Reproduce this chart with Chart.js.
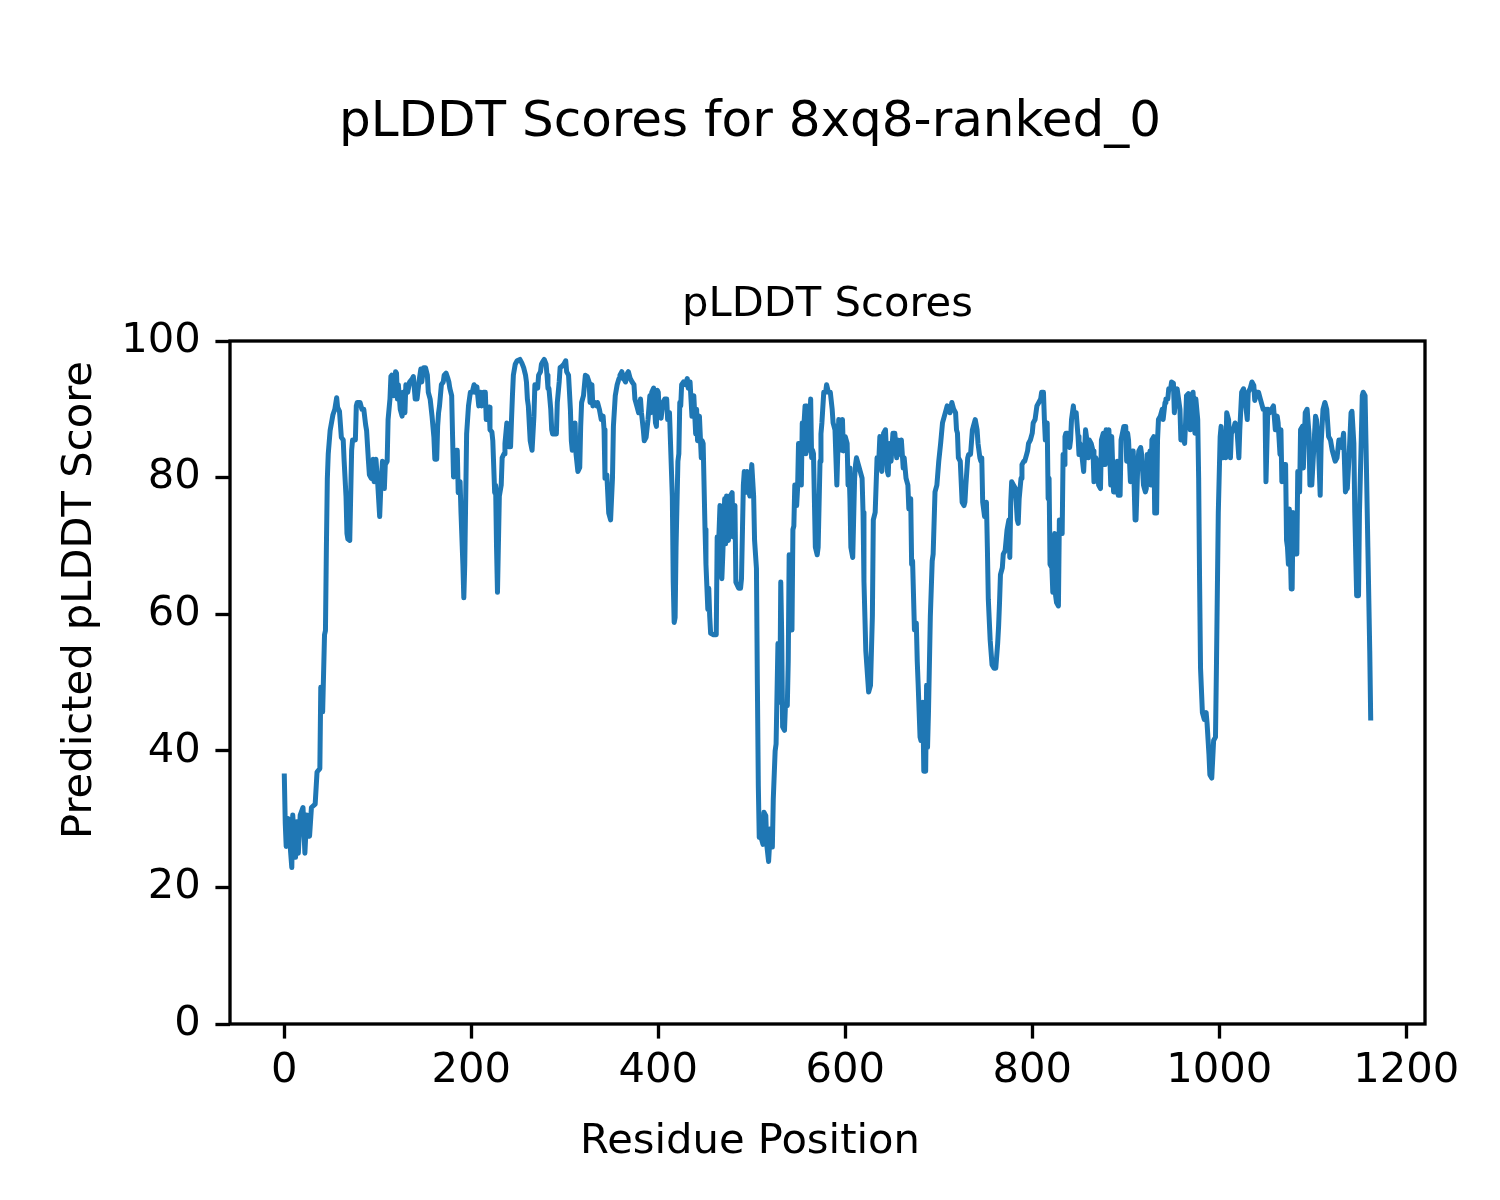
<!DOCTYPE html>
<html>
<head>
<meta charset="utf-8">
<script src="https://cdn.jsdelivr.net/npm/chart.js@4.4.1/dist/chart.umd.min.js"></script>
<style>
  body { margin: 0; background: #ffffff; }
  canvas { display: block; }
</style>
</head>
<body>
<canvas id="chart" width="1500" height="1200"></canvas>
<script>
const figTitle = "pLDDT Scores for 8xq8-ranked_0";
const axesTitle = "pLDDT Scores";
const xLabel = "Residue Position";
const yLabel = "Predicted pLDDT Score";

const xTicks = [0, 200, 400, 600, 800, 1000, 1200];
const yTicks = [0, 20, 40, 60, 80, 100];

const residues = [
  0, 1, 2, 4, 8, 9, 12, 13, 15, 17, 20, 22, 24, 27, 29, 33, 35, 38, 39, 41,
  43, 44, 45, 46, 47, 49, 52, 54, 56, 57, 59, 61, 63, 64, 66, 67, 68, 70, 72, 73,
  76, 77, 78, 81, 83, 85, 87, 88, 90, 91, 93, 95, 96, 98, 100, 102, 103, 105, 107, 108,
  110, 111, 113, 114, 115, 117, 119, 120, 121, 122, 124, 126, 127, 129, 130, 132, 134, 137, 138, 140,
  142, 144, 146, 147, 149, 151, 153, 154, 156, 158, 160, 161, 163, 164, 165, 166, 168, 170, 171, 173,
  175, 176, 177, 179, 180, 181, 183, 184, 185, 186, 188, 189, 191, 192, 193, 195, 197, 199, 201, 203,
  204, 206, 208, 210, 211, 213, 215, 216, 217, 219, 220, 222, 223, 225, 226, 227, 228, 230, 232, 233,
  235, 236, 238, 240, 242, 243, 244, 245, 247, 249, 252, 254, 256, 258, 259, 260, 261, 263, 265, 267,
  268, 270, 271, 272, 274, 275, 277, 278, 280, 281, 282, 283, 285, 286, 287, 289, 291, 292, 294, 295,
  297, 299, 301, 302, 304, 305, 306, 307, 308, 310, 311, 312, 314, 316, 317, 318, 320, 322, 324, 326,
  327, 329, 330, 332, 334, 335, 337, 339, 341, 342, 343, 345, 347, 349, 351, 352, 354, 356, 358, 359,
  361, 363, 365, 367, 368, 370, 372, 374, 375, 377, 379, 381, 382, 384, 385, 387, 389, 391, 392, 393,
  395, 397, 398, 399, 400, 401, 403, 405, 407, 409, 410, 412, 413, 415, 416, 417, 418, 419, 421, 422,
  423, 424, 425, 427, 429, 431, 432, 434, 435, 436, 438, 440, 441, 442, 444, 446, 447, 448, 450, 451,
  453, 454, 455, 456, 459, 462, 463, 464, 466, 468, 469, 471, 472, 473, 475, 477, 479, 480, 482, 483,
  486, 488, 489, 491, 492, 493, 495, 497, 498, 500, 502, 503, 505, 506, 507, 508, 510, 512, 513, 515,
  516, 518, 520, 522, 523, 525, 526, 528, 529, 530, 531, 532, 533, 535, 536, 538, 539, 540, 542, 543,
  544, 545, 546, 548, 549, 550, 551, 553, 554, 555, 557, 558, 559, 561, 563, 564, 565, 566, 568, 570,
  571, 573, 574, 575, 577, 579, 580, 582, 584, 586, 587, 589, 591, 593, 594, 596, 597, 598, 600, 602,
  603, 604, 605, 606, 608, 610, 611, 612, 614, 616, 618, 619, 620, 622, 625, 627, 629, 630, 632, 634,
  636, 637, 639, 641, 643, 645, 646, 647, 649, 651, 653, 655, 656, 658, 660, 662, 663, 665, 667, 668,
  670, 671, 672, 674, 676, 677, 678, 680, 681, 683, 684, 686, 687, 688, 689, 691, 693, 694, 696, 698,
  700, 702, 704, 706, 708, 709, 712, 714, 716, 718, 719, 720, 721, 723, 725, 727, 728, 729, 731, 732,
  734, 736, 737, 739, 741, 742, 744, 745, 746, 747, 749, 750, 751, 752, 753, 755, 757, 759, 761, 763,
  764, 765, 766, 768, 769, 771, 773, 775, 776, 777, 778, 780, 782, 784, 785, 786, 788, 789, 791, 792,
  794, 795, 796, 798, 800, 801, 803, 805, 807, 809, 810, 812, 813, 814, 816, 817, 818, 819, 821, 822,
  824, 825, 826, 828, 829, 831, 832, 833, 834, 835, 836, 838, 840, 841, 842, 844, 845, 847, 849, 850,
  851, 853, 855, 857, 858, 860, 861, 863, 865, 866, 868, 870, 871, 873, 874, 876, 877, 878, 879, 881,
  882, 884, 885, 887, 889, 891, 892, 894, 895, 896, 898, 900, 901, 902, 903, 905, 907, 908, 910, 911,
  913, 914, 916, 917, 919, 920, 921, 922, 923, 924, 926, 927, 928, 930, 931, 933, 934, 935, 937, 939,
  940, 942, 943, 945, 946, 948, 949, 951, 952, 954, 955, 956, 958, 959, 961, 963, 964, 965, 967, 969,
  971, 972, 974, 975, 977, 978, 979, 980, 982, 984, 986, 987, 989, 990, 992, 994, 996, 997, 999, 1001,
  1002, 1004, 1005, 1007, 1008, 1010, 1012, 1013, 1015, 1017, 1019, 1021, 1022, 1024, 1026, 1028, 1030, 1031, 1033, 1035,
  1037, 1038, 1040, 1042, 1044, 1046, 1047, 1049, 1050, 1052, 1054, 1056, 1058, 1060, 1062, 1063, 1065, 1066, 1067, 1069,
  1071, 1072, 1073, 1074, 1075, 1077, 1078, 1079, 1080, 1081, 1083, 1084, 1086, 1087, 1089, 1090, 1092, 1094, 1096, 1097,
  1099, 1101, 1103, 1104, 1106, 1108, 1109, 1111, 1113, 1115, 1117, 1119, 1121, 1122, 1124, 1126, 1128, 1130, 1131, 1133,
  1135, 1136, 1137, 1139, 1141, 1142, 1144, 1145, 1147, 1149, 1150, 1152, 1153, 1154, 1156, 1157, 1159, 1161, 1162
];

const plddt = [
  36.3, 29.4, 26, 30.1, 22.9, 30.6, 24.4, 29.6, 25, 30.6, 31.7, 25, 30.6, 27.5, 31.7, 32.2, 36.9, 37.4, 49.3, 45.7,
  57, 57.6, 69.8, 79.8, 83.5, 86.9, 89.2, 90, 91.7, 90.3, 89.7, 85.9, 85.5, 82.4, 77.2, 71.8, 71, 70.8, 84, 85.5,
  85.5, 90.5, 91, 91, 90, 90, 87.7, 86.9, 82.4, 80.4, 79.9, 82.7, 79.4, 82.7, 78.9, 74.3, 77.8, 82.4, 78.4, 81.9,
  82.4, 88.5, 91.5, 94.8, 95, 92, 95.5, 95.3, 91.5, 93.6, 90, 89, 92.5, 89.5, 93.6, 92.5, 94, 94.5, 94.8, 91.5,
  91.5, 94, 95.9, 94, 96.1, 96.1, 95, 92.5, 91.5, 89, 85.9, 82.7, 82.7, 87.5, 89.5, 90.5, 93.6, 94, 95, 95.3,
  94.5, 94, 93.1, 92, 85.9, 80.1, 80.3, 84, 84, 77.8, 79.4, 74.8, 67.3, 62.4, 67.3, 86.4, 90.5, 92.5, 92.5, 93.6,
  92.5, 93.3, 90.5, 92.5, 90.5, 92.5, 92.5, 88.5, 90, 90.3, 87, 86.7, 85.4, 77.8, 78.9, 69.8, 63.2, 77.3, 78.9, 82.9,
  83.5, 85, 88, 84.5, 84.5, 88.5, 92, 95, 96.6, 97.1, 97.3, 96.8, 96.1, 95, 94, 91.5, 90.5, 85.4, 84, 89,
  93.6, 93.6, 93.1, 95, 95.5, 96.6, 97.1, 97.3, 96.6, 95, 93.1, 93.1, 90, 87, 86.4, 86.4, 86.4, 91, 94, 96.1,
  96.3, 96.6, 97.1, 95.5, 95, 92.5, 90, 85.4, 84, 85, 88, 83.5, 80.9, 81.5, 87.5, 91, 92, 95, 94.8, 94,
  91, 93.6, 90.5, 91, 90.5, 91, 90, 88.5, 89, 87, 79.9, 80.4, 74.8, 73.8, 79.9, 87.5, 92, 93.6, 94.5, 95,
  95.5, 94.5, 94, 95.3, 95.5, 94.5, 94, 93.6, 91.5, 90.5, 89.5, 91.5, 89.5, 87, 85.4, 85.9, 88.5, 92, 89.5, 92.5,
  93.1, 88, 87.5, 92.8, 92.5, 89.5, 88.7, 91, 91.5, 91.5, 88.5, 89.5, 85.4, 77.3, 64.7, 58.8, 59.5, 69.8, 82.4, 83.5,
  91, 90.5, 93.6, 94, 93.6, 94.5, 93.1, 94, 91.5, 89, 92, 86.4, 90, 85.4, 89, 82.9, 85.4, 85, 72.4, 67.3,
  60.7, 63.8, 59.7, 57.2, 57, 57, 71.3, 68.3, 75.9, 65.2, 68.7, 76.9, 70.3, 77.3, 70.8, 77.3, 77.8, 71.3, 75.9, 64.7,
  63.8, 63.8, 65.2, 78.9, 80.9, 77.8, 80.9, 77.8, 77.3, 81.9, 77.3, 70.8, 66.7, 49.6, 34.9, 27.3, 27.3, 26.3, 31, 30.5,
  26.3, 23.8, 28.6, 25.9, 32.9, 40, 41, 55.7, 54.7, 47.1, 64.7, 57.2, 43.5, 43, 46.6, 46.6, 53.1, 68.7, 67.8, 57.7,
  72.4, 72.9, 78.9, 75.9, 78.4, 85, 85, 78.9, 88, 85.9, 90.5, 83.5, 90.5, 84, 91.5, 82.9, 84, 83.5, 69.8, 68.7,
  69.8, 82.4, 86.4, 88, 92.5, 92.5, 93.6, 92.5, 92.5, 90, 88, 87, 78.9, 88.5, 88, 84, 88.5, 83.9, 86, 85,
  78.9, 81.4, 76.9, 69.8, 68.3, 79.9, 81.9, 82.9, 81.9, 80.9, 79.9, 74.9, 64.8, 54.6, 48.6, 49.6, 59.7, 73.8, 74.9, 82.9,
  82.9, 86, 80.9, 86.5, 87, 80.9, 80.4, 85, 82.4, 86.5, 86.5, 82.9, 85.5, 83.4, 85.5, 81.4, 82.9, 79.9, 78.9, 75.4,
  76.9, 67.3, 67.8, 57.7, 58.7, 53.1, 49.6, 42, 41.5, 47.1, 37, 37, 49.6, 40.5, 45.6, 59.7, 67.8, 68.8, 77.9, 78.9,
  82.4, 85, 88, 89, 90, 90.5, 89.5, 91, 90, 89.5, 87, 86.5, 82.9, 82.4, 76.4, 75.9, 76.4, 78.9, 82.9, 83.4,
  83.4, 87, 87.5, 88.5, 87, 85, 82.9, 82.4, 82.9, 76.4, 74.3, 74.9, 76.4, 69.8, 62.2, 56.2, 52.6, 52.1, 52.1, 55.7,
  58.2, 61.7, 65.8, 66.8, 68.8, 69.3, 72.3, 73.8, 68.3, 76.4, 79.4, 78.9, 78.4, 73.8, 73.3, 76.9, 79.9, 81.9, 82.4, 82.4,
  83.4, 83.9, 85, 85.5, 86.5, 88, 88.5, 90.5, 91, 91.5, 92.5, 92.5, 88.5, 85.5, 88, 76.9, 79.9, 67.3, 66.8, 63.2,
  71.8, 62.7, 61.7, 61.2, 73.8, 73.3, 71.8, 83.4, 81.9, 86, 86.5, 86.5, 84.4, 85.5, 88.5, 90.5, 89, 89.5, 86, 83.4,
  85, 83.4, 80.9, 87, 86, 82.9, 85.5, 85, 83.9, 79.4, 82.9, 81.9, 78.9, 78.4, 85.5, 86.5, 81.9, 81.9, 87, 86.5,
  87, 78.9, 86, 77.9, 77.9, 82.4, 77.4, 77.4, 85.5, 85.5, 87.5, 87.5, 82.4, 86.5, 85.5, 79.4, 83.9, 83.9, 73.8, 73.8,
  82.4, 83.9, 84.4, 83.4, 78.9, 78.4, 77.9, 78.4, 83.4, 81.9, 83.9, 78.9, 85.5, 86, 74.8, 74.8, 85.5, 88.5, 89, 90,
  88.5, 91, 91.5, 91.5, 93, 93, 94, 93.8, 89.5, 92.5, 93, 92, 90, 85.5, 86, 85, 88, 92, 92.3, 87,
  92, 92.5, 86.5, 91.5, 88.5, 79.9, 64.8, 52.1, 45.6, 44.6, 45.6, 44, 39.5, 36.5, 36, 41.5, 42, 52.1, 74.8, 86,
  87.5, 82.9, 85.5, 82.9, 89.5, 88.5, 82.9, 86.5, 87, 88, 87, 82.9, 87, 92.5, 93, 91, 88.5, 92.5, 93, 94,
  93.5, 91.3, 92.5, 92.5, 91.5, 90.5, 90, 90, 79.4, 90, 89.5, 90, 90.5, 87, 89, 88, 83.4, 87, 79.4, 81.9,
  81.9, 70.8, 69.8, 67.3, 75.4, 63.7, 63.7, 74.9, 68.8, 73.3, 68.8, 80.9, 77.9, 87, 87.5, 81.4, 89.5, 90, 86.5, 78.9,
  78.9, 83.9, 89, 88.5, 85, 77.4, 85, 90, 91, 90, 86, 85.5, 83.9, 83.4, 82.4, 82.9, 85.5, 85.5, 84.4, 86.5,
  77.9, 78.4, 78.4, 83.4, 89.5, 89.7, 85, 74.9, 62.7, 62.7, 74.9, 86, 92, 92.5, 92, 85, 69.8, 54.6, 44.8
];

const mplFont = "'DejaVu Sans', 'Liberation Sans', sans-serif";
const ptPx = 300 / 72;

// titles, axis labels and the full frame, placed like the matplotlib figure
const figureText = {
  id: "figureText",
  afterDraw(chart) {
    const ctx = chart.ctx;
    const area = chart.chartArea;
    ctx.save();
    ctx.strokeStyle = "#000000";
    ctx.lineWidth = 0.8 * ptPx;
    ctx.strokeRect(area.left, area.top, area.right - area.left, area.bottom - area.top);

    ctx.fillStyle = "#000000";
    ctx.textAlign = "center";
    ctx.textBaseline = "alphabetic";
    ctx.font = 12 * ptPx + "px " + mplFont;
    ctx.fillText(figTitle, 750, 136);

    ctx.font = 10 * ptPx + "px " + mplFont;
    ctx.fillText(axesTitle, (area.left + area.right) / 2, 316);
    ctx.fillText(xLabel, 750, 1153);

    ctx.translate(91, 600);
    ctx.rotate(-Math.PI / 2);
    ctx.fillText(yLabel, 0, 0);
    ctx.restore();
  }
};

function fixedTicks(list) {
  return function (scale) {
    scale.ticks = list.map(v => ({ value: v }));
  };
}

function makeChart() {
  const points = residues.map((r, i) => ({ x: r, y: plddt[i] }));
  const tickFont = { family: mplFont, size: 10 * ptPx };
  const tickGrid = {
    drawOnChartArea: false,
    drawTicks: true,
    tickLength: 3.5 * ptPx,
    tickWidth: 0.8 * ptPx,
    tickColor: "#000000",
  };
  return new Chart(document.getElementById("chart"), {
    type: "line",
    data: {
      datasets: [
        {
          label: "pLDDT",
          data: points,
          borderColor: "#1f77b4",
          borderWidth: 5,
          borderJoinStyle: "round",
          borderCapStyle: "square",
          pointRadius: 0,
          tension: 0,
          fill: false,
        },
      ],
    },
    options: {
      responsive: false,
      devicePixelRatio: 1,
      animation: false,
      layout: { padding: { left: 0, right: 75, top: 341, bottom: 0 } },
      plugins: { legend: { display: false }, tooltip: { enabled: false } },
      scales: {
        x: {
          type: "linear",
          min: -58.1,
          max: 1220.1,
          afterBuildTicks: fixedTicks(xTicks),
          afterFit: s => { s.height = 176; },
          grid: tickGrid,
          border: { display: false },
          ticks: {
            color: "#000000",
            font: tickFont,
            padding: 8,
            maxRotation: 0,
            autoSkip: false,
            callback: v => String(v),
          },
        },
        y: {
          min: 0,
          max: 100,
          afterBuildTicks: fixedTicks(yTicks),
          afterFit: s => { s.width = 230; },
          grid: tickGrid,
          border: { display: false },
          ticks: {
            color: "#000000",
            font: tickFont,
            padding: 3.5 * ptPx,
            autoSkip: false,
            callback: v => String(v),
          },
        },
      },
    },
    plugins: [figureText],
  });
}

makeChart();
</script>
</body>
</html>
